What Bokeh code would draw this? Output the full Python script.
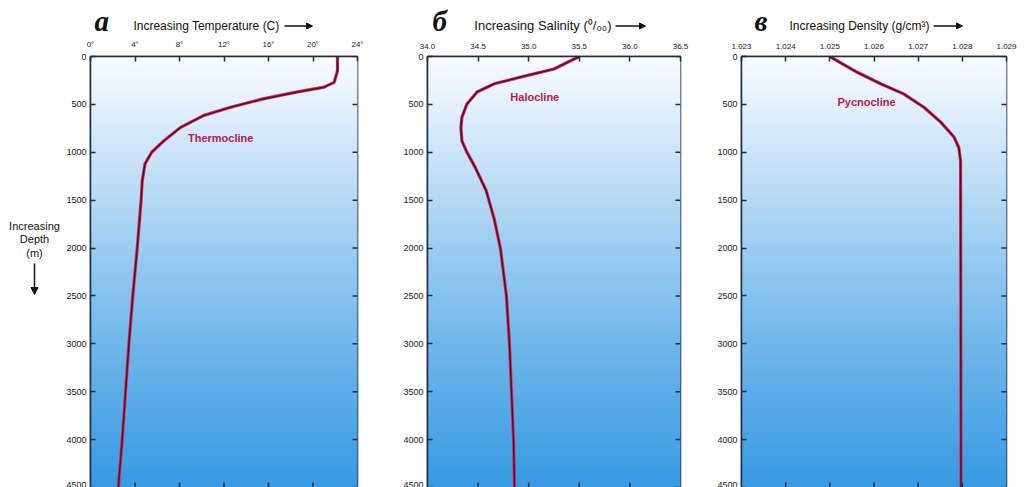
from bokeh.plotting import figure
from bokeh.layouts import row, column
from bokeh.models import Range1d, FixedTicker, Arrow, NormalHead
from bokeh.core.properties import value
from bokeh.embed import file_html
from bokeh.resources import INLINE
import numpy as np

# ---------------- data ----------------
temp_depth = [0, 150, 270, 320, 370, 440, 530, 615, 740, 880, 1000, 1120, 1300, 1500,
              2000, 2500, 3000, 3500, 4000, 4500]
temp_values = [22.2, 22.2, 21.9, 21.0, 18.6, 15.6, 12.6, 10.2, 8.1, 6.6, 5.5, 4.9, 4.65, 4.55,
               4.2, 3.8, 3.45, 3.15, 2.85, 2.5]

sal_depth = [0, 130, 215, 285, 370, 495, 635, 740, 880, 1000, 1155, 1400, 1700, 2000,
             2500, 3000, 3500, 4000, 4500]
sal_values = [35.5, 35.25, 34.92, 34.66, 34.49, 34.39, 34.34, 34.33, 34.34, 34.39, 34.47,
              34.58, 34.66, 34.72, 34.78, 34.81, 34.83, 34.85, 34.86]

dens_depth = [0, 165, 285, 390, 530, 685, 840, 950, 1090, 4500]
dens_values = [1.0250, 1.02562, 1.02615, 1.02667, 1.02713, 1.02751, 1.02781, 1.02792,
               1.02796, 1.02797]

temp_ticks = [0, 4, 8, 12, 16, 20, 24]
temp_tick_labels = ["0°", "4°", "8°", "12°", "16°", "20°", "24°"]
sal_ticks = [34.0, 34.5, 35.0, 35.5, 36.0, 36.5]
sal_tick_labels = ["34.0", "34.5", "35.0", "35.5", "36.0", "36.5"]
dens_ticks = [1.023, 1.024, 1.025, 1.026, 1.027, 1.028, 1.029]
dens_tick_labels = ["1.023", "1.024", "1.025", "1.026", "1.027", "1.028", "1.029"]
depth_ticks = [0, 500, 1000, 1500, 2000, 2500, 3000, 3500, 4000, 4500]
depth_tick_labels = ["0", "500", "1000", "1500", "2000", "2500", "3000", "3500", "4000", "4500"]

titles = ["Increasing Temperature (C)",
          "Increasing Salinity (\u2070/\u2080\u2080)",
          "Increasing Density (g/cm\u00b3)"]
letters = ["\u0430", "\u0431", "\u0432"]
notes = ["Thermocline", "Halocline", "Pycnocline"]
note_x = [11.7, 35.06, 1.02583]
note_y = [846, 428, 480]
depth_label = ["Increasing", "Depth", "(m)"]

# ---------------- layout / style ----------------
TOTAL_W = 1018
HEAD_H = 36
PANEL_H = 487 - HEAD_H
PANEL_TOP = 20
FRAME_H = PANEL_H - PANEL_TOP
DEPTH_MAX = 4500
DEPTH_W = 62
FRAME_COL = "#1d2b45"
CURVE_OUT = "#d0305c"
CURVE_IN = "#5c0a2a"
NOTE_COL = "#b3204b"
TXT = "#111111"

stops_t = [0.0, 0.25, 0.5, 0.75, 1.0]
stops_rgb = np.array([[250, 252, 255], [198, 226, 247], [143, 199, 239],
                      [96, 175, 232], [55, 154, 227]], dtype=float)


def band_colors(n):
    t = (np.arange(n) + 0.5) / n
    cols = []
    for tt in t:
        rgb = [np.interp(tt, stops_t, stops_rgb[:, k]) for k in range(3)]
        cols.append("#%02x%02x%02x" % tuple(int(round(v)) for v in rgb))
    return cols


def make_panel(x_range, ticks, tick_labels, width, bl, br, depth, values, note, nx, ny):
    frame_w = width - bl - br
    p = figure(width=width, height=PANEL_H, x_range=Range1d(*x_range),
               y_range=Range1d(DEPTH_MAX, 0), x_axis_location="above",
               output_backend="svg", toolbar_location=None,
               min_border_left=bl, min_border_right=br, min_border_top=PANEL_TOP,
               min_border_bottom=0)
    p.xgrid.visible = False
    p.ygrid.visible = False
    p.outline_line_color = FRAME_COL
    p.outline_line_width = 1.5
    p.background_fill_color = "white"
    p.border_fill_color = "white"

    n = 180
    edges = np.linspace(0, DEPTH_MAX, n + 1)
    step = edges[1] - edges[0]
    p.quad(left=x_range[0], right=x_range[1], top=edges[:-1], bottom=edges[1:] + step,
           fill_color=band_colors(n), line_color=None)

    p.line(values, depth, line_color=CURVE_OUT, line_width=3.2, line_join="round")
    p.line(values, depth, line_color=CURVE_IN, line_width=1.5, line_join="round")

    dx = 5 * (x_range[1] - x_range[0]) / frame_w
    dy = 5 * DEPTH_MAX / FRAME_H
    p.segment(x0=[x_range[1]] * len(depth_ticks), x1=[x_range[1] - dx] * len(depth_ticks),
              y0=depth_ticks, y1=depth_ticks, line_color=FRAME_COL, line_width=1.5)
    inner = ticks[1:-1]
    p.segment(x0=inner, x1=inner, y0=[DEPTH_MAX] * len(inner), y1=[DEPTH_MAX - dy] * len(inner),
              line_color=FRAME_COL, line_width=1.5)

    xa = p.xaxis[0]
    xa.ticker = FixedTicker(ticks=ticks)
    xa.major_label_overrides = dict(zip(ticks, tick_labels))
    xa.major_tick_in = 5
    xa.major_tick_out = 0
    xa.minor_tick_line_color = None
    xa.major_tick_line_color = FRAME_COL
    xa.major_tick_line_width = 1.5
    xa.axis_line_color = FRAME_COL
    xa.axis_line_width = 1.5
    xa.major_label_standoff = 8
    xa.major_label_text_font = "Liberation Sans"
    xa.major_label_text_font_size = "8px"
    xa.major_label_text_color = "#222222"

    ya = p.yaxis[0]
    ya.ticker = FixedTicker(ticks=depth_ticks)
    ya.major_label_overrides = dict(zip(depth_ticks, depth_tick_labels))
    ya.major_tick_in = 5
    ya.major_tick_out = 0
    ya.minor_tick_line_color = None
    ya.major_tick_line_color = FRAME_COL
    ya.major_tick_line_width = 1.5
    ya.axis_line_color = FRAME_COL
    ya.axis_line_width = 1.5
    ya.major_label_standoff = 4
    ya.major_label_text_font = "Liberation Sans"
    ya.major_label_text_font_size = "9px"
    ya.major_label_text_color = "#222222"

    p.text(x=[nx], y=[ny], text=[note], text_font=value("Liberation Sans"),
           text_font_style="bold", text_font_size="11px", text_color=NOTE_COL,
           text_align="center", text_baseline="middle")
    return p


pa = make_panel((0, 24), temp_ticks, temp_tick_labels, 323, 28, 28,
                temp_depth, temp_values, notes[0], note_x[0], note_y[0])
pb = make_panel((34.0, 36.5), sal_ticks, sal_tick_labels, 327, 42, 32,
                sal_depth, sal_values, notes[1], note_x[1], note_y[1])
pc = make_panel((1.023, 1.029), dens_ticks, dens_tick_labels, 306, 29, 12,
                dens_depth, dens_values, notes[2], note_x[2], note_y[2])


def blank_fig(w, h, y_top, y_bottom, top_border=0):
    f = figure(width=w, height=h, x_range=Range1d(0, w), y_range=Range1d(y_bottom, y_top),
               x_axis_location=None, y_axis_location=None, output_backend="svg",
               toolbar_location=None, min_border=0, min_border_left=0, min_border_right=0,
               min_border_top=top_border, min_border_bottom=0, outline_line_color=None)
    f.xgrid.visible = False
    f.ygrid.visible = False
    return f


# ---------------- header (page pixel coordinates, y downward) ----------------
head = blank_fig(TOTAL_W, HEAD_H, 0, HEAD_H)
head.text(x=[94, 432, 754], y=[20, 20, 20], text=letters,
          text_font=value("Liberation Serif"), text_font_style="bold italic",
          text_font_size="29px", text_color=TXT, text_align="left",
          text_baseline="middle")
title_right = [279, 611, 929]
title_sizes = ["12px", "13px", "12px"]
for t, xr, fs in zip(titles, title_right, title_sizes):
    head.text(x=[xr], y=[25], text=[t], text_font=value("Liberation Sans"),
              text_font_size=fs, text_color=TXT, text_align="right",
              text_baseline="middle")
for x0, x1 in [(284, 312), (615, 645), (933, 962)]:
    head.add_layout(Arrow(end=NormalHead(size=6, fill_color=TXT, line_color=TXT),
                          x_start=x0, y_start=25.5, x_end=x1, y_end=25.5,
                          line_color=TXT, line_width=1.5))

# ---------------- depth label column (frame aligned with panels: page y 56..487) ----------------
dfig = blank_fig(DEPTH_W, PANEL_H, HEAD_H + PANEL_TOP, 487, top_border=PANEL_TOP)
dfig.text(x=[34, 34, 34], y=[225, 238.5, 252], text=depth_label,
          text_font=value("Liberation Sans"), text_font_size="11px", text_color=TXT,
          text_align="center", text_baseline="middle")
dfig.add_layout(Arrow(end=NormalHead(size=7, fill_color=TXT, line_color=TXT),
                      x_start=34, y_start=263, x_end=34, y_end=294,
                      line_color=TXT, line_width=1.5))

layout = column(head, row(dfig, pa, pb, pc))
open("out.html", "w").write(file_html(layout, INLINE))
